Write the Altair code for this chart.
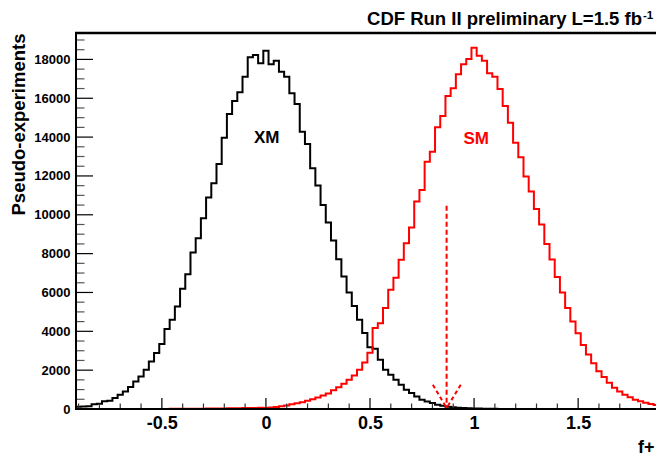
import altair as alt
import pandas as pd

# ---------------- data ----------------
BIN_LO = -0.9125      # lower edge of first bin
BIN_W = 0.025         # bin width
# XM pseudo-experiments, bins centred at -0.9 ... 1.9 (113 bins)
XM = [
    110, 125, 140, 250, 265, 400, 430, 565, 735, 905,          # -0.900 .. -0.675
    1130, 1420, 1678, 2022, 2450, 2880, 3344, 4115, 4594, 5278,  # -0.650 .. -0.425
    6188, 6944, 8056, 8796, 9825, 10885, 11626, 12618, 13971, 15190,  # -0.400 .. -0.175
    15860, 16307, 17110, 18107, 18225, 17800, 18447, 17747, 17932, 17366,  # -0.150 .. 0.075
    17110, 16255, 15705, 14280, 13647, 12397, 11502, 10509, 9599, 8673,  # 0.100 .. 0.325
    7716, 6821, 5998, 5300, 4594, 3909, 3180, 3100, 2536, 2022,  # 0.350 .. 0.575
    1764, 1507, 1250, 993, 823, 648, 478, 391, 308, 221,        # 0.600 .. 0.825
    170, 110, 90, 65, 50, 38, 28, 20, 14, 10,                    # 0.850 .. 1.075
    7, 5, 4, 3, 2, 2, 1, 1, 1, 1,                                # 1.100 .. 1.325
    1, 0, 0, 0, 0, 0, 0, 0, 0, 0,                                # 1.350 .. 1.575
    0, 0, 0, 0, 0, 0, 0, 0, 0, 0,                                # 1.600 .. 1.825
    0, 0, 0,                                                     # 1.850 .. 1.900
]
# SM pseudo-experiments
SM = [
    0, 0, 0, 0, 0, 0, 0, 1, 1, 1,                                # -0.900 .. -0.675
    1, 2, 2, 3, 3, 4, 5, 6, 7, 8,                                # -0.650 .. -0.425
    10, 11, 13, 15, 17, 20, 23, 26, 30, 34,                      # -0.400 .. -0.175
    38, 42, 46, 50, 55, 60, 55, 75, 100, 140,                    # -0.150 .. 0.075
    185, 240, 300, 350, 420, 500, 590, 690, 800, 960,            # 0.100 .. 0.325
    1120, 1300, 1500, 1720, 2020, 2400, 2900, 4170, 4420, 5195,  # 0.350 .. 0.575
    6137, 6760, 7680, 8539, 9342, 10679, 11281, 12737, 13251, 14506,  # 0.600 .. 0.825
    15087, 16116, 16512, 17232, 17747, 18020, 18600, 18190, 17932, 17284,  # 0.850 .. 1.075
    17110, 16477, 15602, 14743, 13714, 12963, 11965, 11200, 10300, 9500,  # 1.100 .. 1.325
    8500, 7700, 6800, 6000, 5200, 4500, 3900, 3300, 2800, 2350,  # 1.350 .. 1.575
    1950, 1650, 1350, 1100, 900, 730, 600, 480, 400, 320,        # 1.600 .. 1.825
    260, 210, 170,                                               # 1.850 .. 1.900
]
assert len(XM) == 113 and len(SM) == 113

# visible x range: the reference frame runs off the right edge of the picture
X_DOMAIN = [-0.9125, 1.8741]
Y_DOMAIN = [0, 19360]
X_MAJOR = [-0.5, 0, 0.5, 1, 1.5]
X_MINOR = [-0.9, -0.8, -0.7, -0.6, -0.4, -0.3, -0.2, -0.1, 0.1, 0.2, 0.3, 0.4,
           0.6, 0.7, 0.8, 0.9, 1.1, 1.2, 1.3, 1.4, 1.6, 1.7, 1.8]
Y_MAJOR = [0, 2000, 4000, 6000, 8000, 10000, 12000, 14000, 16000, 18000]
Y_MINOR = [500, 1000, 1500, 2500, 3000, 3500, 4500, 5000, 5500, 6500, 7000, 7500,
           8500, 9000, 9500, 10500, 11000, 11500, 12500, 13000, 13500, 14500,
           15000, 15500, 16500, 17000, 17500, 18500, 19000]

LABELS = ["XM", "SM"]
LABEL_X = [0.004, 1.01]
LABEL_Y = [13970, 13900]
COLORS = ["#000000", "#ff0000"]

# measured value indicated by the dashed arrow
ARROW_X = 0.868
ARROW_TOP = 10460
ARROW_TIP = 50
HEAD_X = [0.802, 0.936]
HEAD_Y = 1250

W, H = 580, 376
FONT = "Liberation Sans"

# ---------------- tables ----------------
rows = []
for name, counts in (("XM", XM), ("SM", SM)):
    for i in range(len(counts) + 1):
        rows.append({"x": BIN_LO + i * BIN_W, "n": counts[min(i, len(counts) - 1)], "s": name})
hist = pd.DataFrame(rows)

xs = alt.Scale(domain=X_DOMAIN, nice=False, zero=False)
ys = alt.Scale(domain=Y_DOMAIN, nice=False, zero=False)

x_axis = alt.Axis(values=X_MAJOR, labelExpr="toString(datum.value)", ticks=False, tickSize=0,
                  domain=False, grid=False, labelFont=FONT, labelFontSize=18,
                  labelFontWeight="bold", labelColor="black", labelPadding=5,
                  labelFlush=False, labelOverlap=False,
                  title="f+", titleFont=FONT, titleFontSize=18, titleFontWeight="bold",
                  titleColor="black", titleX=W - 2, titleY=43, titleAlign="right",
                  titleBaseline="alphabetic")
y_axis = alt.Axis(values=Y_MAJOR, labelExpr="toString(datum.value)", ticks=False, tickSize=0,
                  domain=False, grid=False, labelFont=FONT, labelFontSize=13,
                  labelFontWeight="bold", labelColor="black", labelPadding=6,
                  labelFlush=False, labelOverlap=False,
                  title="Pseudo-experiments", titleFont=FONT, titleFontSize=18.5,
                  titleFontWeight="bold", titleColor="black", titleX=-58, titleY=0,
                  titleAngle=270, titleAlign="right", titleBaseline="middle")

X = lambda f: alt.X(f, scale=xs, axis=x_axis)
Y = lambda f: alt.Y(f, scale=ys, axis=y_axis)

lines = alt.Chart(hist).mark_line(interpolate="step-after", strokeWidth=2, clip=True).encode(
    x=X("x:Q"), y=Y("n:Q"),
    color=alt.Color("s:N", scale=alt.Scale(domain=LABELS, range=COLORS), legend=None),
    detail="s:N",
)

ymaj = alt.Chart(pd.DataFrame({"v": Y_MAJOR})).mark_rule(color="black", strokeWidth=1.2).encode(
    y=Y("v:Q"), x=alt.value(0), x2=alt.value(17))
ymin = alt.Chart(pd.DataFrame({"v": Y_MINOR})).mark_rule(color="#555555", strokeWidth=1.2).encode(
    y=Y("v:Q"), x=alt.value(0), x2=alt.value(8.5))
xmaj = alt.Chart(pd.DataFrame({"v": X_MAJOR})).mark_rule(color="black", strokeWidth=1.2).encode(
    x=X("v:Q"), y=alt.value(H), y2=alt.value(H - 11))
xmin = alt.Chart(pd.DataFrame({"v": X_MINOR})).mark_rule(color="#333333", strokeWidth=1.2).encode(
    x=X("v:Q"), y=alt.value(H), y2=alt.value(H - 5.5))

# frame: left, bottom and top (right side lies beyond the picture)
frame_l = alt.Chart(pd.DataFrame({"a": [0]})).mark_rule(color="black", strokeWidth=2).encode(
    x=alt.value(0), y=alt.value(-1), y2=alt.value(H + 1))
frame_b = alt.Chart(pd.DataFrame({"a": [0]})).mark_rule(color="black", strokeWidth=2).encode(
    x=alt.value(-1), x2=alt.value(W), y=alt.value(H))
frame_t = alt.Chart(pd.DataFrame({"a": [0]})).mark_rule(color="black", strokeWidth=2.5).encode(
    x=alt.value(-1), x2=alt.value(W), y=alt.value(0))

labels = alt.Chart(pd.DataFrame({"t": LABELS, "x": LABEL_X, "y": LABEL_Y})).mark_text(
    font=FONT, fontSize=17, fontWeight="bold", baseline="middle", align="center").encode(
    x=X("x:Q"), y=Y("y:Q"), text="t:N",
    color=alt.Color("t:N", scale=alt.Scale(domain=LABELS, range=COLORS), legend=None))

shaft = alt.Chart(pd.DataFrame({"x": [ARROW_X], "y": [ARROW_TOP], "y2": [ARROW_TIP]})).mark_rule(
    color="#ff0000", strokeWidth=2, strokeDash=[5, 3]).encode(
    x=X("x:Q"), y=Y("y:Q"), y2="y2:Q")
head = alt.Chart(pd.DataFrame({"x": HEAD_X, "y": [HEAD_Y, HEAD_Y],
                               "x2": [ARROW_X, ARROW_X], "y2": [ARROW_TIP, ARROW_TIP]})).mark_rule(
    color="#ff0000", strokeWidth=2, strokeDash=[4, 3]).encode(
    x=X("x:Q"), y=Y("y:Q"), x2="x2:Q", y2="y2:Q")

title_main = alt.Chart(pd.DataFrame({"t": ["CDF Run II preliminary L=1.5 fb"]})).mark_text(
    font=FONT, fontSize=18.5, fontWeight="bold", align="right", baseline="alphabetic",
    color="black").encode(text="t:N", x=alt.value(566), y=alt.value(-8))
title_sup = alt.Chart(pd.DataFrame({"t": ["-1"]})).mark_text(
    font=FONT, fontSize=11.5, fontWeight="bold", align="left", baseline="alphabetic",
    color="black").encode(text="t:N", x=alt.value(567), y=alt.value(-14))

chart = alt.layer(lines, ymaj, ymin, xmaj, xmin, frame_l, frame_b, frame_t,
                  shaft, head, labels, title_main, title_sup).properties(
    width=W, height=H,
    autosize=alt.AutoSizeParams(type="none"),
    padding={"left": 68, "top": 25, "right": 0, "bottom": 49},
    background="white",
).configure_view(stroke="transparent")

chart.save("out.html", embed_options={"renderer": "svg", "actions": False})
